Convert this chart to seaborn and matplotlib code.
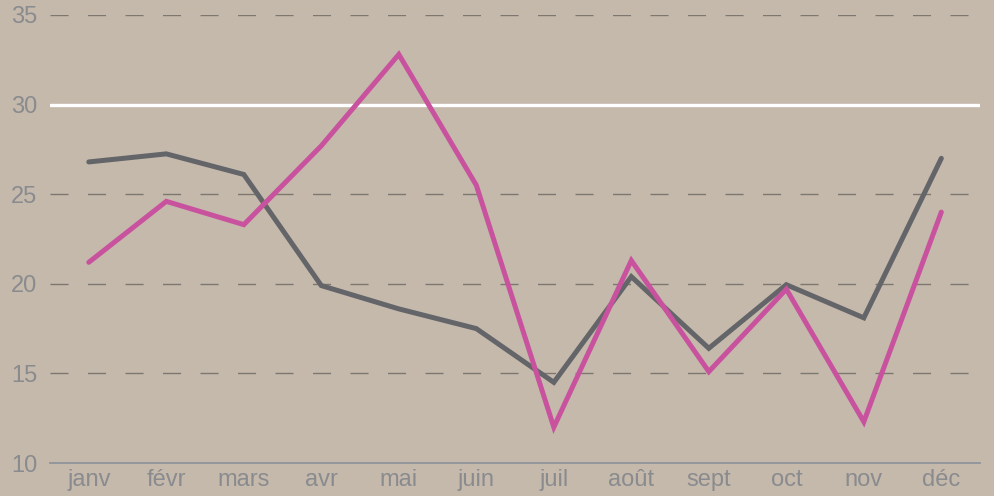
import matplotlib
matplotlib.use("Agg")
import matplotlib.pyplot as plt
import seaborn as sns
import pandas as pd

months = ["janv", "févr", "mars", "avr", "mai", "juin",
          "juil", "août", "sept", "oct", "nov", "déc"]
gray_values = [26.8, 27.25, 26.1, 19.9, 18.6, 17.5, 14.5, 20.4, 16.4, 19.95, 18.1, 27.0]
pink_values = [21.2, 24.6, 23.3, 27.7, 32.8, 25.5, 12.0, 21.3, 15.1, 19.7, 12.3, 24.0]
dashed_levels = [15, 20, 25, 35]
white_level = 30

bg = "#c5b9ac"
sns.set_theme(style="white")
plt.rcParams["font.family"] = ["Liberation Sans", "DejaVu Sans"]

df = pd.DataFrame({
    "month": months * 2,
    "value": gray_values + pink_values,
    "series": ["gris"] * 12 + ["rose"] * 12,
})

fig = plt.figure(figsize=(9.95, 4.96), dpi=100, facecolor=bg)
ax = fig.add_axes([0.0503, 0.0665, 0.9347, 0.9033])
ax.set_facecolor(bg)

for lvl in dashed_levels:
    ax.axhline(lvl, color="#7d7770", lw=1.0, linestyle=(0, (13, 14)), zorder=1)
ax.axhline(white_level, color="white", lw=2.4, zorder=1)

sns.lineplot(data=df, x="month", y="value", hue="series",
             palette={"gris": "#646569", "rose": "#c9529f"},
             lw=3.6, ax=ax, legend=False, sort=False, zorder=3,
             solid_capstyle="round", solid_joinstyle="miter")

ax.set_xlim(-0.5, 11.5)
ax.set_ylim(10, 35)
ax.set_yticks([10, 15, 20, 25, 30, 35])
ax.set_xlabel("")
ax.set_ylabel("")
ax.tick_params(axis="both", length=0, labelsize=17, colors="#898b8e")
ax.tick_params(axis="x", pad=4)
ax.tick_params(axis="y", pad=9)

for s in ["top", "right", "left"]:
    ax.spines[s].set_visible(False)
ax.spines["bottom"].set_color("#8f949a")
ax.spines["bottom"].set_linewidth(1.3)

fig.savefig("out.png", dpi=100, facecolor=bg)
